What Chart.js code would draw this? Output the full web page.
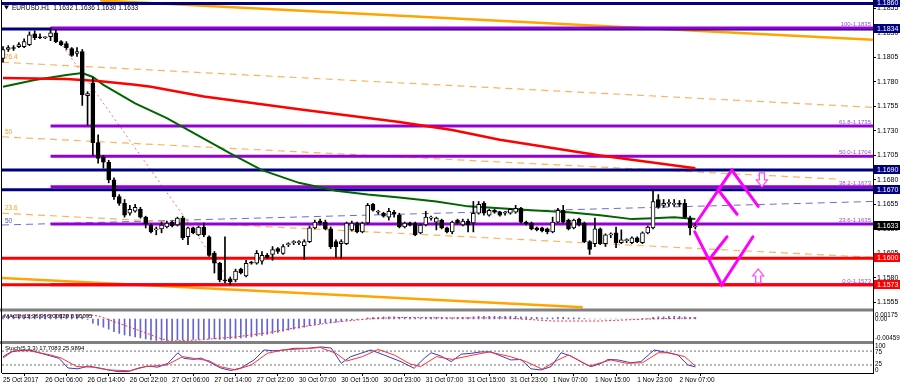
<!DOCTYPE html>
<html>
<head>
<meta charset="utf-8">
<title>EURUSD H1</title>
<script src="https://cdn.jsdelivr.net/npm/chart.js@4.4.1/dist/chart.umd.min.js"></script>
<style>
  html, body { margin: 0; padding: 0; background: #fff; }
  canvas { display: block; }
</style>
</head>
<body>
<canvas id="chart" width="900" height="387"></canvas>
<script>
// time axis (bar index -> label every 8 bars)
const tickBars = [0, 8, 16, 24, 32, 40, 48, 56, 64, 72, 80, 88, 96, 104, 112, 120, 128];
const tickLabels = ['25 Oct 2017', '26 Oct 06:00', '26 Oct 14:00', '26 Oct 22:00', '27 Oct 06:00',
  '27 Oct 14:00', '27 Oct 22:00', '30 Oct 07:00', '30 Oct 15:00', '30 Oct 23:00', '31 Oct 07:00',
  '31 Oct 15:00', '31 Oct 23:00', '1 Nov 07:00', '1 Nov 15:00', '1 Nov 23:00', '2 Nov 07:00'];
const priceTicks = [1.1555, 1.1580, 1.1605, 1.1630, 1.1655, 1.1680, 1.1705, 1.1730, 1.1755, 1.1780, 1.1805, 1.1830, 1.1855];

// EURUSD H1 candles
const opens = [
  1.1804,1.1813,1.1815,1.1816,1.1816,1.1818,1.1829,1.1826,1.1825,1.1826,
  1.1830,1.1821,1.1819,1.1814,1.1809,1.1811,1.1766,1.1779,1.1718,1.1703,
  1.1698,1.1680,1.1663,1.1656,1.1646,1.1648,1.1650,1.1642,1.1634,1.1629,
  1.1630,1.1632,1.1637,1.1634,1.1641,1.1622,1.1631,1.1624,1.1632,1.1622,
  1.1605,1.1595,1.1578,1.1579,1.1578,1.1589,1.1582,1.1596,1.1595,1.1597,
  1.1603,1.1604,1.1610,1.1605,1.1614,1.1616,1.1616,1.1613,1.1617,1.1631,
  1.1638,1.1637,1.1630,1.1617,1.1615,1.1615,1.1629,1.1636,1.1627,1.1636,
  1.1655,1.1647,1.1646,1.1642,1.1647,1.1644,1.1632,1.1636,1.1636,1.1626,
  1.1634,1.1641,1.1637,1.1639,1.1631,1.1627,1.1639,1.1634,1.1638,1.1636,
  1.1646,1.1656,1.1644,1.1649,1.1647,1.1646,1.1646,1.1647,1.1651,1.1637,
  1.1636,1.1631,1.1631,1.1630,1.1627,1.1637,1.1649,1.1639,1.1631,1.1640,
  1.1636,1.1617,1.1615,1.1630,1.1615,1.1624,1.1626,1.1616,1.1618,1.1616,
  1.1621,1.1616,1.1626,1.1631,1.1660,1.1654,1.1656,1.1655,1.1656,1.1656,
  1.1641,1.1632];
const highs = [
  1.1816,1.1817,1.1817,1.1820,1.1824,1.1831,1.1832,1.1829,1.1826,1.1835,
  1.1833,1.1822,1.1821,1.1815,1.1815,1.1813,1.1770,1.1784,1.1726,1.1705,
  1.1700,1.1682,1.1665,1.1660,1.1654,1.1655,1.1652,1.1643,1.1635,1.1632,
  1.1637,1.1638,1.1638,1.1642,1.1643,1.1632,1.1632,1.1633,1.1636,1.1623,
  1.1607,1.1596,1.1622,1.1581,1.1589,1.1590,1.1598,1.1597,1.1608,1.1607,
  1.1605,1.1612,1.1611,1.1614,1.1616,1.1618,1.1618,1.1619,1.1633,1.1639,
  1.1640,1.1639,1.1632,1.1619,1.1619,1.1637,1.1638,1.1637,1.1637,1.1656,
  1.1656,1.1649,1.1647,1.1651,1.1649,1.1646,1.1637,1.1637,1.1637,1.1635,
  1.1648,1.1643,1.1642,1.1640,1.1632,1.1638,1.1640,1.1640,1.1640,1.1658,
  1.1658,1.1658,1.1650,1.1650,1.1648,1.1648,1.1651,1.1654,1.1652,1.1638,
  1.1637,1.1632,1.1632,1.1631,1.1642,1.1651,1.1654,1.1640,1.1640,1.1641,
  1.1637,1.1618,1.1641,1.1631,1.1625,1.1626,1.1632,1.1629,1.1620,1.1622,
  1.1622,1.1627,1.1633,1.1670,1.1665,1.1660,1.1660,1.1660,1.1659,1.1660,
  1.1643,1.1636];
const lows = [
  1.1800,1.1811,1.1812,1.1815,1.1815,1.1817,1.1823,1.1824,1.1824,1.1822,
  1.1820,1.1817,1.1813,1.1806,1.1806,1.1756,1.1736,1.1705,1.1697,1.1692,
  1.1677,1.1660,1.1654,1.1642,1.1644,1.1647,1.1641,1.1631,1.1626,1.1624,
  1.1626,1.1631,1.1632,1.1633,1.1619,1.1614,1.1625,1.1623,1.1622,1.1602,
  1.1585,1.1576,1.1575,1.1573,1.1576,1.1584,1.1581,1.1594,1.1594,1.1594,
  1.1600,1.1598,1.1605,1.1604,1.1612,1.1614,1.1614,1.1599,1.1616,1.1630,
  1.1634,1.1629,1.1610,1.1601,1.1600,1.1614,1.1628,1.1626,1.1626,1.1635,
  1.1648,1.1645,1.1642,1.1639,1.1642,1.1631,1.1631,1.1633,1.1623,1.1625,
  1.1633,1.1639,1.1629,1.1630,1.1626,1.1625,1.1635,1.1633,1.1627,1.1627,
  1.1645,1.1644,1.1643,1.1646,1.1643,1.1644,1.1645,1.1646,1.1636,1.1634,
  1.1629,1.1628,1.1627,1.1625,1.1626,1.1636,1.1636,1.1629,1.1630,1.1633,
  1.1616,1.1604,1.1612,1.1614,1.1612,1.1621,1.1611,1.1615,1.1616,1.1615,
  1.1616,1.1615,1.1625,1.1630,1.1651,1.1652,1.1653,1.1653,1.1653,1.1641,
  1.1624,1.1630];
const closes = [
  1.1813,1.1815,1.1814,1.1818,1.1821,1.1828,1.1825,1.1825,1.1825,1.1830,
  1.1821,1.1818,1.1815,1.1807,1.1811,1.1767,1.1768,1.1718,1.1702,1.1698,
  1.1680,1.1663,1.1656,1.1644,1.1650,1.1652,1.1642,1.1635,1.1627,1.1629,
  1.1634,1.1636,1.1633,1.1641,1.1621,1.1631,1.1626,1.1632,1.1624,1.1603,
  1.1595,1.1578,1.1577,1.1576,1.1587,1.1585,1.1595,1.1595,1.1605,1.1603,
  1.1601,1.1609,1.1607,1.1612,1.1614,1.1616,1.1616,1.1617,1.1631,1.1637,
  1.1636,1.1630,1.1612,1.1612,1.1617,1.1636,1.1636,1.1627,1.1636,1.1654,
  1.1649,1.1647,1.1643,1.1648,1.1645,1.1632,1.1636,1.1634,1.1624,1.1634,
  1.1642,1.1641,1.1641,1.1631,1.1627,1.1637,1.1636,1.1638,1.1634,1.1646,
  1.1655,1.1646,1.1649,1.1647,1.1644,1.1646,1.1650,1.1651,1.1637,1.1635,
  1.1630,1.1629,1.1628,1.1627,1.1637,1.1649,1.1637,1.1630,1.1639,1.1634,
  1.1617,1.1609,1.1630,1.1615,1.1624,1.1624,1.1616,1.1619,1.1618,1.1621,
  1.1617,1.1626,1.1632,1.1658,1.1652,1.1656,1.1656,1.1656,1.1655,1.1642,
  1.1631,1.1633];

// moving averages, [bar, price]
const ma200 = [[0,1.1784],[12,1.1783],[18,1.1781],[25,1.1777],[28,1.1775],[38,1.1765],[56,1.1752],
  [75,1.1739],[85,1.1731],[94,1.1721],[113,1.1705],[131,1.1692]];
const ma50 = [[0,1.1775],[6,1.1782],[12,1.1787],[15,1.1789],[17,1.1785],[19,1.1777],[25,1.1758],
  [31,1.1743],[35,1.1731],[43,1.1707],[49,1.1690],[56,1.1677],[63,1.1669],[69,1.1665],[75,1.1662],
  [82,1.1658],[88,1.1653],[94,1.1651],[100,1.1649],[107,1.1647],[113,1.1644],[119,1.1640],
  [123,1.1641],[127,1.1642],[131,1.1640]];

// drawn objects
const navyLevels = [1.1860, 1.1834, 1.1690, 1.1670];
const redLevels = [1.1600, 1.1573];
const fibNames = ['100', '61.8', '50.0', '38.2', '23.6', '0.0'];
const fibPrices = [1.1835, 1.1735, 1.1704, 1.1673, 1.1635, 1.1573];
const fibStartBar = 9;
const channelDashed = [[1.1800, 1.1754], [1.1724, 1.1679], [1.1646, 1.1601]];
const channelNames = ['76.4', '50', '23.6'];
const blueDashed = [1.1634, 1.1658];
const upperChannel = [[18.4, 1.1863], [164.6, 1.1823]];
const lowerChannel = [[-0.2, 1.1580], [109.7, 1.1550]];
const dottedTrend = [[10.2, 1.1825], [43.0, 1.1576]];
const zigUpper = [[130.9, 1.1634], [137.9, 1.1690], [142.9, 1.1653]];
const zigUpperInner = [[135.3, 1.1670], [138.9, 1.1645]];
const zigLower = [[130.9, 1.1627], [136.0, 1.1573], [141.9, 1.1622]];
const zigLowerInner = [[133.8, 1.1600], [137.0, 1.1622]];
const arrowBars = [143.6, 142.9];
const arrowPrices = [1.1680, 1.1582];
const arrowDirs = ['down', 'up'];
const priceBoxes = [1.1860, 1.1834, 1.1690, 1.1670, 1.1633, 1.1600, 1.1573];
const boxColors = ['#000080', '#000080', '#000080', '#000080', '#000000', '#ff0000', '#ff0000'];

// MACD(12,26,9)
const macdHist = [
  0.0006,0.0006,0.0007,0.0007,0.0007,0.0008,0.0008,0.0009,0.0009,0.0009,
  0.0009,0.0009,0.0008,0.0008,0.0007,0.0004,-0.0001,-0.0008,-0.0012,-0.0016,
  -0.0020,-0.0025,-0.0028,-0.0031,-0.0033,-0.0035,-0.0037,-0.0039,-0.0041,-0.0042,
  -0.0042,-0.0042,-0.0042,-0.0041,-0.0041,-0.0041,-0.0040,-0.0040,-0.0039,-0.0039,
  -0.0039,-0.0040,-0.0040,-0.0039,-0.0038,-0.0037,-0.0036,-0.0035,-0.0033,-0.0032,
  -0.0030,-0.0028,-0.0026,-0.0024,-0.0022,-0.0020,-0.0018,-0.0016,-0.0013,-0.0011,
  -0.0009,-0.0007,-0.0007,-0.0006,-0.0005,-0.0003,-0.0002,-0.0001,0.0000,0.0002,
  0.0003,0.0003,0.0004,0.0004,0.0004,0.0003,0.0003,0.0003,0.0002,0.0002,
  0.0003,0.0003,0.0003,0.0003,0.0002,0.0002,0.0003,0.0003,0.0003,0.0004,
  0.0005,0.0005,0.0005,0.0005,0.0005,0.0005,0.0005,0.0005,0.0004,0.0004,
  0.0003,0.0003,0.0002,0.0002,0.0002,0.0003,0.0003,0.0002,0.0002,0.0002,
  0.0001,0.0000,0.0000,0.0000,0.0000,0.0000,0.0000,0.0000,0.0000,0.0000,
  0.0000,0.0001,0.0001,0.0003,0.0004,0.0004,0.0005,0.0005,0.0005,0.0004,
  0.0003,0.0003];
const macdSignal = [[0,0.0006],[15,0.0008],[18,0.0006],[24,-0.0016],[27,-0.0027],[30,-0.0039],
  [32,-0.0043],[37,-0.0041],[44,-0.0035],[50,-0.0027],[56,-0.0016],[63,-0.0006],[69,0.0000],
  [75,0.0003],[85,0.0002],[95,0.0002],[104,-0.0004],[113,-0.0004],[122,0.0000],[131,0.0002]];

// Stochastic(5,3,3)
const stochMain = [[0,55],[1.5,72],[3.4,78],[5.3,78],[7.2,67],[9.1,57],[10.6,49],[12.3,14],[14.2,11],
  [16.1,21],[18,15],[19.9,7],[21.8,1],[23.7,1],[25.5,13],[27.4,21],[29.3,17],[31.2,31],[33.1,69],
  [34.2,49],[36.1,45],[37.5,50],[39.4,32],[41.2,14],[43.1,5],[45,14],[47.5,43],[49.4,79],[51.3,76],
  [53.2,79],[55.1,85],[57.7,85],[60.2,90],[62.1,86],[64,31],[65.8,55],[67.7,67],[69.6,79],[72.1,61],
  [75.3,37],[77.8,13],[79.7,49],[81,69],[82.9,57],[84.8,37],[86.7,64],[88.6,67],[90.4,72],[92.3,72],
  [96.1,43],[98,45],[99.9,11],[101.8,7],[103.7,19],[105.6,69],[107.5,57],[109.9,31],[111.3,19],
  [113.2,31],[114.5,45],[116.4,43],[118.8,33],[120.7,37],[123.2,79],[125.1,72],[127.7,61],
  [129.6,25],[131,18]];
const stochSignal = [[0,50],[2,76],[5,76],[9,61],[11,50],[14,19],[17,17],[20,7],[24,4],[27,19],
  [31,25],[34,55],[36,49],[39,40],[41,19],[44,7],[47,25],[50,67],[53,79],[58,85],[60,88],[63,67],
  [65,39],[68,55],[71,81],[74,61],[77,29],[79,19],[82,55],[85,45],[89,61],[92,72],[96,55],[99,37],
  [102,10],[105,43],[107,61],[111,21],[115,43],[118,31],[121,33],[124,69],[126,69],[129,55],[131,21]];
const stochLevels = [75, 25];

const xMin = -0.19, xMax = 164.62;
const yMin = 1.15473, yMax = 1.18635;

Chart.defaults.font.family = "'Liberation Sans', Arial, sans-serif";
Chart.defaults.font.size = 7;
Chart.defaults.color = '#000';

const pts = arr => arr.map(([x, y]) => ({ x, y }));
function line(points, color, width, extra) {
  return Object.assign({
    type: 'line', data: pts(points), borderColor: color, borderWidth: width,
    pointRadius: 0, fill: false, tension: 0, yAxisID: 'y', order: 10
  }, extra || {});
}

const datasets = [];
channelDashed.forEach(([a, b]) =>
  datasets.push(line([[xMin, a], [xMax, b]], '#ffb25e', 1.2, { borderDash: [7, 5], order: 14 })));
datasets.push(line([[xMin, blueDashed[0]], [xMax, blueDashed[1]]], '#6b6bd6', 1, { borderDash: [7, 5], order: 14 }));
datasets.push(line(upperChannel, '#ffa500', 2.5, { order: 13 }));
datasets.push(line(lowerChannel, '#ffa500', 2.5, { order: 13 }));
datasets.push(line(dottedTrend, '#ff7070', 1, { borderDash: [2, 3], order: 13 }));
navyLevels.forEach(p => datasets.push(line([[xMin, p], [xMax, p]], '#000080', 3, { order: 12 })));
fibPrices.forEach(p => datasets.push(line([[fibStartBar, p], [xMax, p]], '#9400d3', 3, { order: 11 })));
redLevels.forEach(p => datasets.push(line([[xMin, p], [xMax, p]], '#ff0000', 3, { order: 10 })));
datasets.push(line(ma200, '#ff0000', 2.5, { order: 8 }));
datasets.push(line(ma50, '#006400', 2, { order: 8 }));
[zigUpper, zigUpperInner, zigLower, zigLowerInner].forEach(z =>
  datasets.push(line(z, '#ff00ff', 3, { order: 7, borderCapStyle: 'round', borderJoinStyle: 'miter' })));

// candles: wicks then bodies
datasets.push({
  type: 'bar', yAxisID: 'y', order: 2, grouped: false, barThickness: 1,
  data: opens.map((_, i) => ({ x: i, y: [lows[i], highs[i]] })),
  backgroundColor: '#000'
});
datasets.push({
  type: 'bar', yAxisID: 'y', order: 1, grouped: false, barThickness: 4, minBarLength: 1,
  data: opens.map((o, i) => ({ x: i, y: [o, closes[i]] })),
  backgroundColor: opens.map((o, i) => closes[i] >= o ? '#ffffff' : '#000000'),
  borderColor: '#000', borderWidth: 1, borderSkipped: false
});

// MACD pane
datasets.push({
  type: 'bar', yAxisID: 'yMacd', order: 3, grouped: false, barThickness: 1,
  data: macdHist.map((v, i) => ({ x: i, y: v })), backgroundColor: '#6464d4'
});
datasets.push(line(macdSignal, '#ff3030', 1, { yAxisID: 'yMacd', borderDash: [2, 2], order: 2 }));

// Stochastic pane
stochLevels.forEach(l => datasets.push(line([[xMin, l], [xMax, l]], '#707070', 1, { yAxisID: 'yStoch', borderDash: [2, 2], order: 4 })));
datasets.push(line(stochMain, '#3a3ac0', 1, { yAxisID: 'yStoch', order: 3 }));
datasets.push(line(stochSignal, '#ff3030', 1, { yAxisID: 'yStoch', order: 2 }));

// right axes: fixed width, no extra label padding at the ends
const fixWidth = s => { s.width = 27; s.paddingTop = 0; s.paddingBottom = 0; };

const overlay = {
  id: 'overlay',
  afterDatasetsDraw(chart) {
    const { ctx } = chart;
    const x = chart.scales.x, y = chart.scales.y;
    const shape = [[-2.5, -7], [2.5, -7], [2.5, 0], [5.5, 0], [0, 7], [-5.5, 0], [-2.5, 0]];
    arrowBars.forEach((b, i) => {
      const cx = x.getPixelForValue(b), cy = y.getPixelForValue(arrowPrices[i]);
      const s = arrowDirs[i] === 'down' ? 1 : -1;
      ctx.save();
      ctx.beginPath();
      shape.forEach(([dx, dy], k) => k ? ctx.lineTo(cx + dx, cy + dy * s) : ctx.moveTo(cx + dx, cy + dy * s));
      ctx.closePath();
      ctx.fillStyle = '#fff';
      ctx.fill();
      ctx.strokeStyle = '#ff44ff';
      ctx.lineWidth = 1.2;
      ctx.stroke();
      ctx.restore();
    });
  },
  afterDraw(chart) {
    const { ctx, chartArea } = chart;
    const y = chart.scales.y, ym = chart.scales.yMacd, ys = chart.scales.yStoch;
    ctx.save();
    // pane separators and left frame
    ctx.fillStyle = '#808080';
    ctx.fillRect(0, ym.top - 1.5, chartArea.right, 3);
    ctx.fillRect(0, ys.top - 1.5, chartArea.right, 3);
    ctx.fillStyle = '#000';
    ctx.fillRect(1, 0, 1, chartArea.bottom);

    // title
    ctx.beginPath();
    ctx.moveTo(4, 5.5); ctx.lineTo(9, 5.5); ctx.lineTo(6.5, 9.5); ctx.closePath();
    ctx.fill();
    ctx.font = "6.5px 'Liberation Sans', Arial, sans-serif";
    ctx.textBaseline = 'middle';
    ctx.textAlign = 'left';
    ctx.fillText('EURUSD.H1  1.1632 1.1636 1.1630 1.1633', 12, 8);

    // channel labels
    ctx.textBaseline = 'alphabetic';
    ctx.fillStyle = '#ff9a20';
    channelDashed.forEach(([a], i) => ctx.fillText(channelNames[i], chartArea.left + 3, y.getPixelForValue(a) - 3));
    ctx.fillStyle = '#5050c8';
    ctx.fillText('50', chartArea.left + 3, y.getPixelForValue(blueDashed[0]) - 2);

    // fibo labels
    ctx.font = "6px 'Liberation Sans', Arial, sans-serif";
    ctx.textAlign = 'right';
    fibPrices.forEach((p, i) => {
      const t = fibNames[i] + '-' + p.toFixed(4);
      const py = y.getPixelForValue(p) - 2;
      const w = ctx.measureText(t).width;
      ctx.fillStyle = '#fff';
      ctx.fillRect(chartArea.right - 2 - w, py - 6, w + 1, 6);
      ctx.fillStyle = '#9a4ddb';
      ctx.fillText(t, chartArea.right - 2, py);
    });

    // indicator captions
    ctx.textAlign = 'left';
    ctx.textBaseline = 'middle';
    ctx.fillStyle = '#000';
    ctx.fillText('MACD(12,26,9) 0.00029 0.00095', 4, ym.top + 6);
    ctx.fillText('Stoch(5,3,3) 17.7083 25.9894', 5, ys.top + 6);

    // sub-pane axis labels
    ctx.font = "6.3px 'Liberation Sans', Arial, sans-serif";
    const ax = chartArea.right + 2;
    ctx.fillText('0.00175', ax, ym.top + 5);
    ctx.fillText('0.00', ax, ym.getPixelForValue(0));
    ctx.fillText('-0.00459', ax, ym.bottom - 4);
    ctx.fillText('100', ax, ys.top + 4);
    ctx.fillText('75', ax, ys.getPixelForValue(75) + 1);
    ctx.fillText('25', ax, ys.getPixelForValue(25) - 1);
    ctx.fillText('0', ax, ys.bottom - 3);

    // price boxes on the axis
    ctx.font = "7px 'Liberation Sans', Arial, sans-serif";
    priceBoxes.forEach((p, i) => {
      const py = Math.round(y.getPixelForValue(p));
      ctx.fillStyle = boxColors[i];
      ctx.fillRect(chartArea.right + 1, py - 5, 26, 9);
      ctx.fillStyle = '#fff';
      ctx.fillText(p.toFixed(4), chartArea.right + 4, py);
    });
    ctx.restore();
  }
};

new Chart(document.getElementById('chart'), {
  type: 'line',
  data: { datasets },
  options: {
    responsive: false,
    animation: false,
    devicePixelRatio: 1,
    layout: { padding: { left: 2, top: 0, right: 0, bottom: 0 } },
    plugins: { legend: { display: false }, tooltip: { enabled: false } },
    scales: {
      x: {
        type: 'linear', min: xMin, max: xMax, offset: false, position: 'bottom',
        grid: { display: true, drawOnChartArea: false, drawTicks: true, tickLength: 3, color: '#000' },
        border: { display: true, color: '#000' },
        afterBuildTicks: s => { s.ticks = tickBars.map(v => ({ value: v })); },
        afterFit: s => { s.height = 14; s.paddingLeft = 0; s.paddingRight = 0; },
        ticks: {
          autoSkip: false, maxRotation: 0, align: 'start', padding: 0,
          font: { size: 6.5 }, color: '#000',
          callback: (v, i) => tickLabels[i]
        }
      },
      y: {
        type: 'linear', position: 'right', stack: 'panes', stackWeight: 310,
        min: yMin, max: yMax,
        grid: { display: true, drawOnChartArea: false, drawTicks: true, tickLength: 3, color: '#000' },
        border: { display: true, color: '#000' },
        afterBuildTicks: s => { s.ticks = priceTicks.map(v => ({ value: v })); },
        afterFit: fixWidth,
        ticks: { padding: 1, color: '#000', callback: v => v.toFixed(4) }
      },
      yMacd: {
        type: 'linear', position: 'right', stack: 'panes', stackWeight: 32.5,
        min: -0.00459, max: 0.00175,
        grid: { display: false },
        border: { display: true, color: '#000' },
        afterFit: fixWidth,
        ticks: { display: false }
      },
      yStoch: {
        type: 'linear', position: 'right', stack: 'panes', stackWeight: 30.5,
        min: -4, max: 106,
        grid: { display: false },
        border: { display: true, color: '#000' },
        afterFit: fixWidth,
        ticks: { display: false }
      }
    }
  },
  plugins: [overlay]
});
</script>
</body>
</html>
